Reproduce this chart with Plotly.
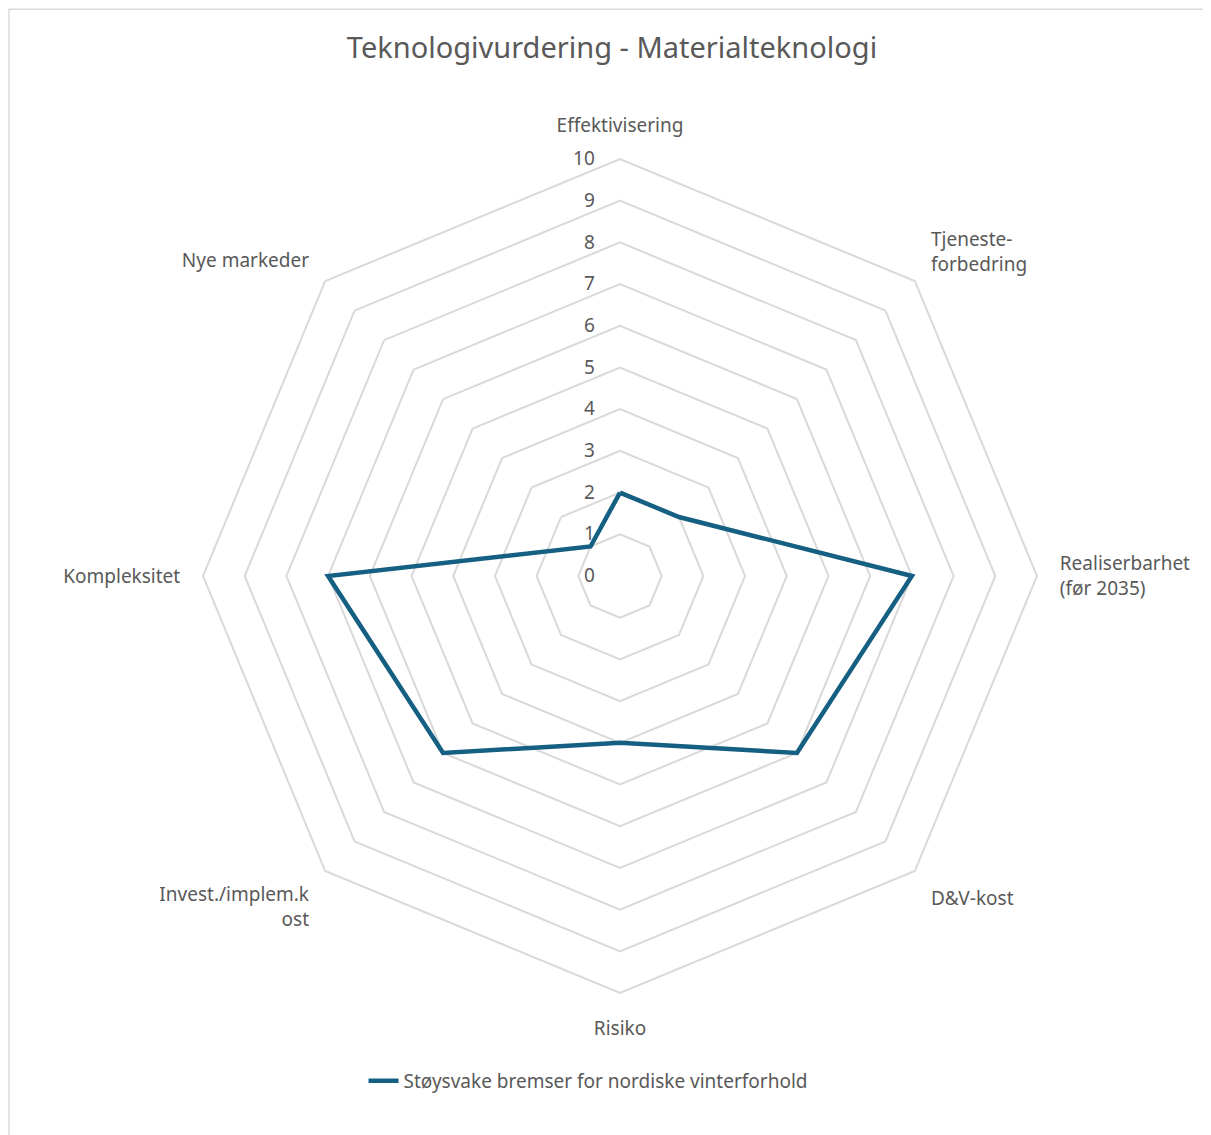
import plotly.graph_objects as go

# Kategorier og verdier (lest fra figuren)
kategorier = ["Effektivisering", "Tjeneste-<br>forbedring", "Realiserbarhet<br>(før 2035)",
              "D&V-kost", "Risiko", "Invest./implem.k<br>ost", "Kompleksitet", "Nye markeder"]
verdier = [2, 2, 7, 6, 4, 6, 7, 1]
serie_navn = "Støysvake bremser for nordiske vinterforhold"
radial_ticks = list(range(0, 11))

W, H = 1211, 1135
# siden har 8px marg, så figurkoordinater = bildekoordinater - 8
cx, cy, R = 612, 568, 417

fig = go.Figure()

fig.add_trace(go.Scatterpolar(
    r=verdier + verdier[:1],
    theta=kategorier + kategorier[:1],
    mode="lines",
    name=serie_navn,
    line=dict(color="#156082", width=4.5),
))

fig.update_layout(
    width=W, height=H,
    margin=dict(l=0, r=0, t=0, b=0),
    paper_bgcolor="white",
    font=dict(family="Noto Sans", color="#595959", size=19),
    title=dict(text="Teknologivurdering - Materialteknologi", x=604 / W, xanchor="center",
               y=(H - 40) / H, yanchor="middle", font=dict(size=29, color="#595959")),
    polar=dict(
        domain=dict(x=[(cx - R) / W, (cx + R) / W], y=[(H - cy - R) / H, (H - cy + R) / H]),
        bgcolor="white",
        gridshape="linear",
        angularaxis=dict(direction="clockwise", rotation=90, showline=True,
                         linecolor="#D9D9D9", linewidth=2, showgrid=False,
                         ticks="outside", ticklen=18, tickcolor="rgba(0,0,0,0)",
                         tickfont=dict(size=19, color="#595959")),
        radialaxis=dict(range=[0, 10], tickvals=radial_ticks, angle=90, tickangle=90,
                        side="counterclockwise", showline=False,
                        gridcolor="#D9D9D9", gridwidth=1.5,
                        ticks="outside", ticklen=18, tickcolor="rgba(0,0,0,0)",
                        tickfont=dict(size=19, color="#595959")),
    ),
    showlegend=True,
    legend=dict(orientation="h", x=580 / W, xanchor="center", y=(H - 1073) / H, yanchor="middle",
                font=dict(size=19, color="#595959")),
    shapes=[dict(type="rect", xref="paper", yref="paper", x0=1 / W, x1=1.01, y0=-0.01,
                 y1=0.999, line=dict(color="#D9D9D9", width=1.5))],
)

fig.write_html("out.html")
